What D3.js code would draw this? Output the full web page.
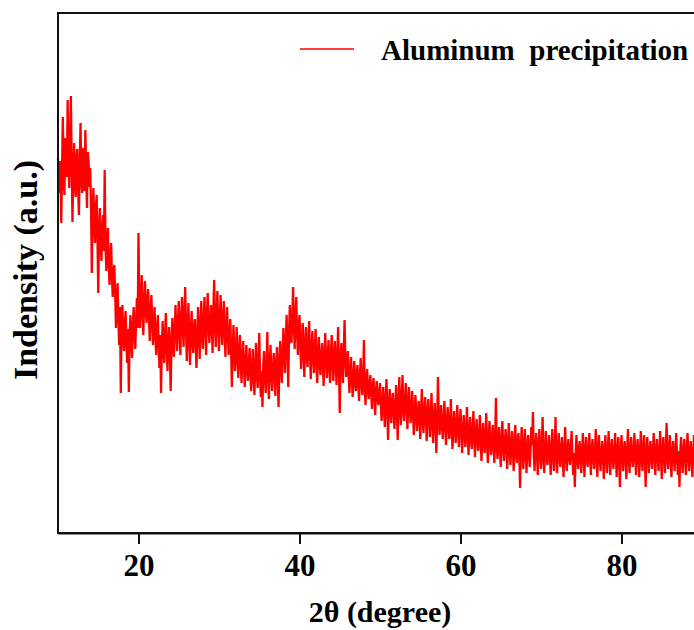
<!DOCTYPE html>
<html>
<head>
<meta charset="utf-8">
<script src="https://cdn.jsdelivr.net/npm/d3@7"></script>
<style>
  body { margin: 0; background: #fff; }
  text { font-family: "Liberation Serif", "Times New Roman", serif; font-weight: bold; fill: #000; }
</style>
</head>
<body>
<svg id="xrd" width="694" height="630"></svg>
<script>
// scan grid, degrees 2-theta
var thetaStart = 10,
  thetaStep = 0.1;

// intensity (a.u.), 2 degrees per row
var intensity10to30 = [
  375, 352, 340, 372, 310, 362, 416, 350, 338, 395, 388, 356, 433, 370, 345, 392, 437, 368, 311, 360,
  390, 348, 336, 378, 384, 345, 318, 370, 410, 352, 340, 385, 380, 342, 403, 358, 325, 381, 372, 346,
  365, 330, 260, 318, 345, 306, 290, 325, 338, 296, 240, 300, 325, 288, 272, 305, 318, 282, 363, 290,
  262, 285, 305, 270, 248, 276, 290, 255, 236, 262, 268, 240, 205, 232, 250, 214, 188, 226, 140, 210,
  228, 196, 182, 210, 222, 188, 170, 204, 141, 200, 218, 192, 175, 208, 226, 198, 184, 212, 235, 205,
  300, 228, 205, 236, 258, 222, 198, 230, 252, 226, 210, 232, 244, 215, 192, 222, 238, 210, 188, 214,
  226, 196, 178, 202, 218, 190, 165, 198, 140, 188, 212, 184, 170, 200, 220, 186, 162, 190, 206, 180,
  142, 190, 215, 194, 176, 205, 228, 200, 182, 210, 232, 204, 178, 212, 236, 208, 186, 220, 246, 206,
  172, 204, 230, 196, 168, 200, 222, 192, 180, 206, 214, 190, 165, 198, 226, 203, 174, 208, 232, 196,
  184, 214, 236, 206, 178, 218, 240, 210, 190, 205, 228, 215, 180, 222, 253, 212, 186, 218, 242, 208
];
var intensity30to50 = [
  182, 212, 238, 206, 188, 215, 232, 200, 176, 204, 226, 198, 178, 192, 214, 184, 146, 180, 208, 176,
  162, 182, 206, 175, 155, 180, 198, 170, 150, 174, 192, 166, 146, 170, 188, 162, 152, 168, 185, 160,
  142, 164, 184, 158, 138, 166, 190, 160, 145, 170, 200, 155, 136, 162, 126, 168, 182, 157, 140, 163,
  201, 160, 134, 166, 188, 158, 142, 164, 180, 160, 137, 168, 186, 156, 126, 172, 192, 165, 150, 178,
  205, 182, 160, 192, 218, 188, 146, 200, 228, 196, 190, 212, 246, 210, 184, 216, 236, 200, 178, 205,
  218, 190, 164, 186, 210, 182, 156, 188, 206, 178, 166, 192, 212, 180, 154, 184, 202, 176, 160, 182,
  204, 172, 150, 178, 196, 170, 158, 176, 190, 168, 147, 180, 200, 172, 155, 174, 193, 166, 150, 178,
  198, 170, 152, 176, 192, 168, 148, 178, 206, 166, 120, 172, 190, 170, 150, 182, 213, 174, 156, 166,
  182, 160, 140, 154, 176, 158, 136, 150, 172, 156, 142, 160, 168, 148, 132, 155, 175, 152, 138, 150,
  193, 146, 128, 150, 164, 142, 134, 148, 158, 140, 124, 146, 155, 136, 118, 142, 152, 134, 128, 140
];
var intensity50to70 = [
  150, 130, 112, 126, 146, 124, 106, 132, 154, 128, 93, 122, 144, 127, 110, 130, 140, 120, 104, 126,
  148, 124, 93, 130, 156, 126, 108, 134, 158, 122, 112, 128, 150, 132, 104, 124, 146, 128, 110, 120,
  142, 120, 98, 116, 138, 122, 102, 114, 132, 118, 94, 124, 144, 112, 100, 120, 136, 116, 92, 122,
  134, 114, 96, 118, 140, 110, 90, 116, 130, 108, 80, 112, 156, 120, 98, 114, 128, 106, 94, 112,
  132, 110, 88, 106, 126, 112, 94, 104, 134, 108, 84, 102, 122, 110, 90, 106, 128, 104, 86, 108,
  124, 102, 80, 98, 118, 104, 86, 96, 126, 100, 78, 102, 116, 94, 84, 100, 122, 98, 76, 96,
  114, 96, 82, 92, 118, 98, 72, 90, 110, 94, 80, 96, 120, 88, 70, 94, 112, 90, 78, 92,
  108, 88, 70, 92, 135, 86, 74, 90, 106, 84, 66, 92, 112, 88, 72, 86, 104, 90, 64, 84,
  110, 86, 68, 84, 102, 88, 62, 82, 108, 86, 70, 90, 100, 80, 45, 84, 106, 88, 64, 82,
  104, 82, 60, 86, 98, 80, 66, 84, 106, 88, 121, 78, 62, 84, 100, 80, 58, 86, 104, 82
];
var intensity70to90 = [
  64, 84, 116, 78, 60, 82, 102, 76, 68, 84, 98, 80, 58, 78, 104, 84, 62, 76, 116, 80,
  60, 82, 100, 78, 66, 84, 96, 76, 56, 80, 106, 78, 62, 82, 94, 76, 68, 84, 102, 78,
  58, 80, 46, 76, 98, 78, 64, 82, 92, 76, 60, 80, 100, 78, 56, 82, 96, 76, 66, 80,
  100, 78, 58, 82, 94, 76, 64, 80, 104, 78, 56, 84, 98, 76, 62, 80, 92, 78, 54, 82,
  98, 76, 60, 80, 102, 78, 58, 82, 94, 76, 64, 80, 100, 78, 56, 82, 96, 76, 46, 80,
  98, 78, 62, 82, 92, 76, 54, 80, 104, 78, 60, 82, 96, 76, 66, 80, 100, 78, 58, 82,
  94, 76, 56, 80, 102, 78, 62, 82, 98, 76, 46, 80, 96, 78, 60, 82, 92, 76, 64, 80,
  100, 78, 58, 82, 94, 76, 62, 80, 102, 78, 54, 82, 96, 76, 60, 80, 110, 78, 64, 82,
  98, 76, 56, 80, 92, 78, 62, 82, 100, 76, 58, 82, 46, 80, 96, 78, 60, 82, 94, 76,
  58, 80, 100, 78, 62, 82, 92, 76, 56, 80, 98, 78, 64, 82, 94, 76, 58, 80, 96, 78,
  70
];

var xTicks = [20, 40, 60, 80];
var seriesName = "Aluminum  precipitation";

var intensity = [].concat(intensity10to30, intensity30to50, intensity50to70, intensity70to90);
var scan = intensity.map(function (v, i) {
  return { theta: thetaStart + i * thetaStep, counts: v };
});

var svg = d3.select("#xrd"),
  margin = { top: 13, right: -8, bottom: 97, left: 58 },
  width = +svg.attr("width") - margin.left - margin.right,
  height = +svg.attr("height") - margin.top - margin.bottom;

var x = d3.scaleLinear().domain([10, 90]).range([margin.left, margin.left + width]);
var y = d3.scaleLinear().domain([0, 520]).range([margin.top + height, margin.top]);

var line = d3
  .line()
  .x((d) => x(d.theta))
  .y((d) => y(d.counts));

svg
  .append("path")
  .datum(scan)
  .attr("fill", "none")
  .attr("stroke", "#ff0000")
  .attr("stroke-width", 2.3)
  .attr("stroke-linejoin", "bevel")
  .attr("d", line);

// frame
svg
  .append("rect")
  .attr("x", x(10))
  .attr("y", y(520))
  .attr("width", x(90) - x(10))
  .attr("height", y(0) - y(520))
  .attr("fill", "none")
  .attr("stroke", "#111")
  .attr("stroke-width", 2);

var xAxis = svg
  .append("g")
  .attr("class", "x-axis")
  .attr("transform", "translate(0," + y(0) + ")")
  .call(d3.axisBottom(x).tickValues(xTicks).tickSize(11).tickSizeOuter(0).tickPadding(10).tickFormat(d3.format("d")));

xAxis.select(".domain").attr("stroke", "#111").attr("stroke-width", 2);
xAxis.selectAll(".tick line").attr("stroke", "#111").attr("stroke-width", 2);
xAxis
  .selectAll(".tick text")
  .attr("font-family", null)
  .attr("font-size", null)
  .style("font-size", "31px")
  .attr("fill", "#000");

svg
  .append("text")
  .attr("x", (x(10) + x(90)) / 2)
  .attr("y", 622)
  .attr("text-anchor", "middle")
  .style("font-size", "30px")
  .text("2θ (degree)");

svg
  .append("text")
  .attr("transform", "translate(37," + 270 + ") rotate(-90)")
  .attr("text-anchor", "middle")
  .style("font-size", "34px")
  .text("Indensity (a.u.)");

// legend
var legend = svg.append("g").attr("class", "legend");
legend
  .append("line")
  .attr("x1", 300)
  .attr("x2", 354)
  .attr("y1", 49)
  .attr("y2", 49)
  .attr("stroke", "#ff0000")
  .attr("stroke-width", 1.5);
legend
  .append("text")
  .attr("x", 381)
  .attr("y", 60)
  .style("font-size", "29px")
  .style("white-space", "pre")
  .text(seriesName);
</script>
</body>
</html>
